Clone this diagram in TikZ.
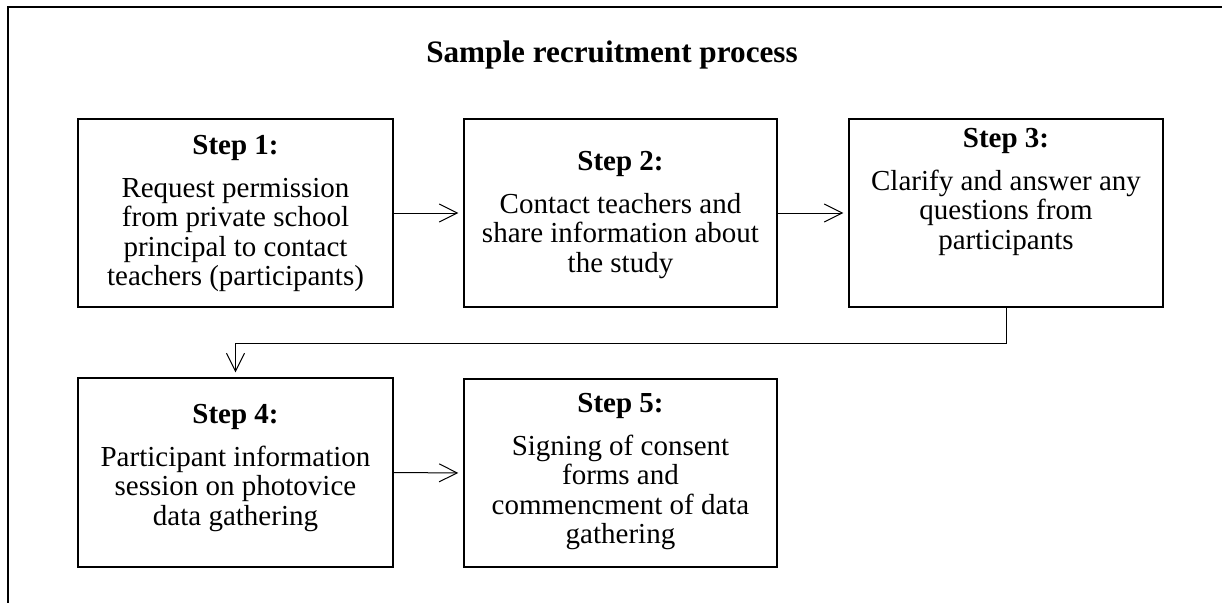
\documentclass[tikz,border=0pt]{standalone}
\usepackage{fontspec}
\setmainfont{Liberation Serif}
\usetikzlibrary{arrows.meta}

\begin{document}
\begin{tikzpicture}[x=0.75pt,y=-0.75pt,
  stepbox/.style={draw, line width=1.6pt, inner sep=0pt},
  steptext/.style={anchor=north, inner sep=0pt, align=center,
    font=\fontsize{21.75}{22}\selectfont},
  conn/.style={line width=0.75pt, -{Straight Barb[length=13.5pt,width=13.5pt,line width=0.75pt]}, shorten >=3.5pt},
  frame/.style={line width=1.7pt}]
\useasboundingbox (0,0) rectangle (1222,603);

% open frame: top and left edges
\draw[frame] (8,603) -- (8,7) -- (1222,7);

\node[anchor=base, inner sep=0pt, font=\fontsize{23.4}{24}\selectfont\bfseries] (title) at (612,62) {Sample recruitment process};

% step boxes
\node[stepbox, minimum width=236.25pt, minimum height=141pt] (b1) at (235.5,213) {};
\node[stepbox, minimum width=234.75pt, minimum height=141pt] (b2) at (620.5,213) {};
\node[stepbox, minimum width=235.5pt, minimum height=141pt] (b3) at (1006,213) {};
\node[stepbox, minimum width=236.25pt, minimum height=141.75pt] (b4) at (235.5,472.5) {};
\node[stepbox, minimum width=234.75pt, minimum height=141pt] (b5) at (620.5,473) {};

% box texts
\node[steptext] (t1) at (235.5,135) {\textbf{Step 1:}\\[10.3pt]Request permission\\from private school\\principal to contact\\teachers (participants)};
\node[steptext] (t2) at (620.5,151) {\textbf{Step 2:}\\[10.3pt]Contact teachers and\\share information about\\the study};
\node[steptext] (t3) at (1006,128) {\textbf{Step 3:}\\[10.3pt]Clarify and answer any\\questions from\\participants};
\node[steptext] (t4) at (235.5,404) {\textbf{Step 4:}\\[10.3pt]Participant information\\session on photovice\\data gathering};
\node[steptext] (t5) at (620.5,393) {\textbf{Step 5:}\\[10.3pt]Signing of consent\\forms and\\commencment of data\\gathering};

% connectors
\draw[conn] (b1.east) -- (b2.west);
\draw[conn] (b2.east) -- (b3.west);
\draw[conn] (b3.south) -- ++(0,35) -| (b4.north);
\draw[conn] (b4.east) -- (b5.west);
\end{tikzpicture}
\end{document}
